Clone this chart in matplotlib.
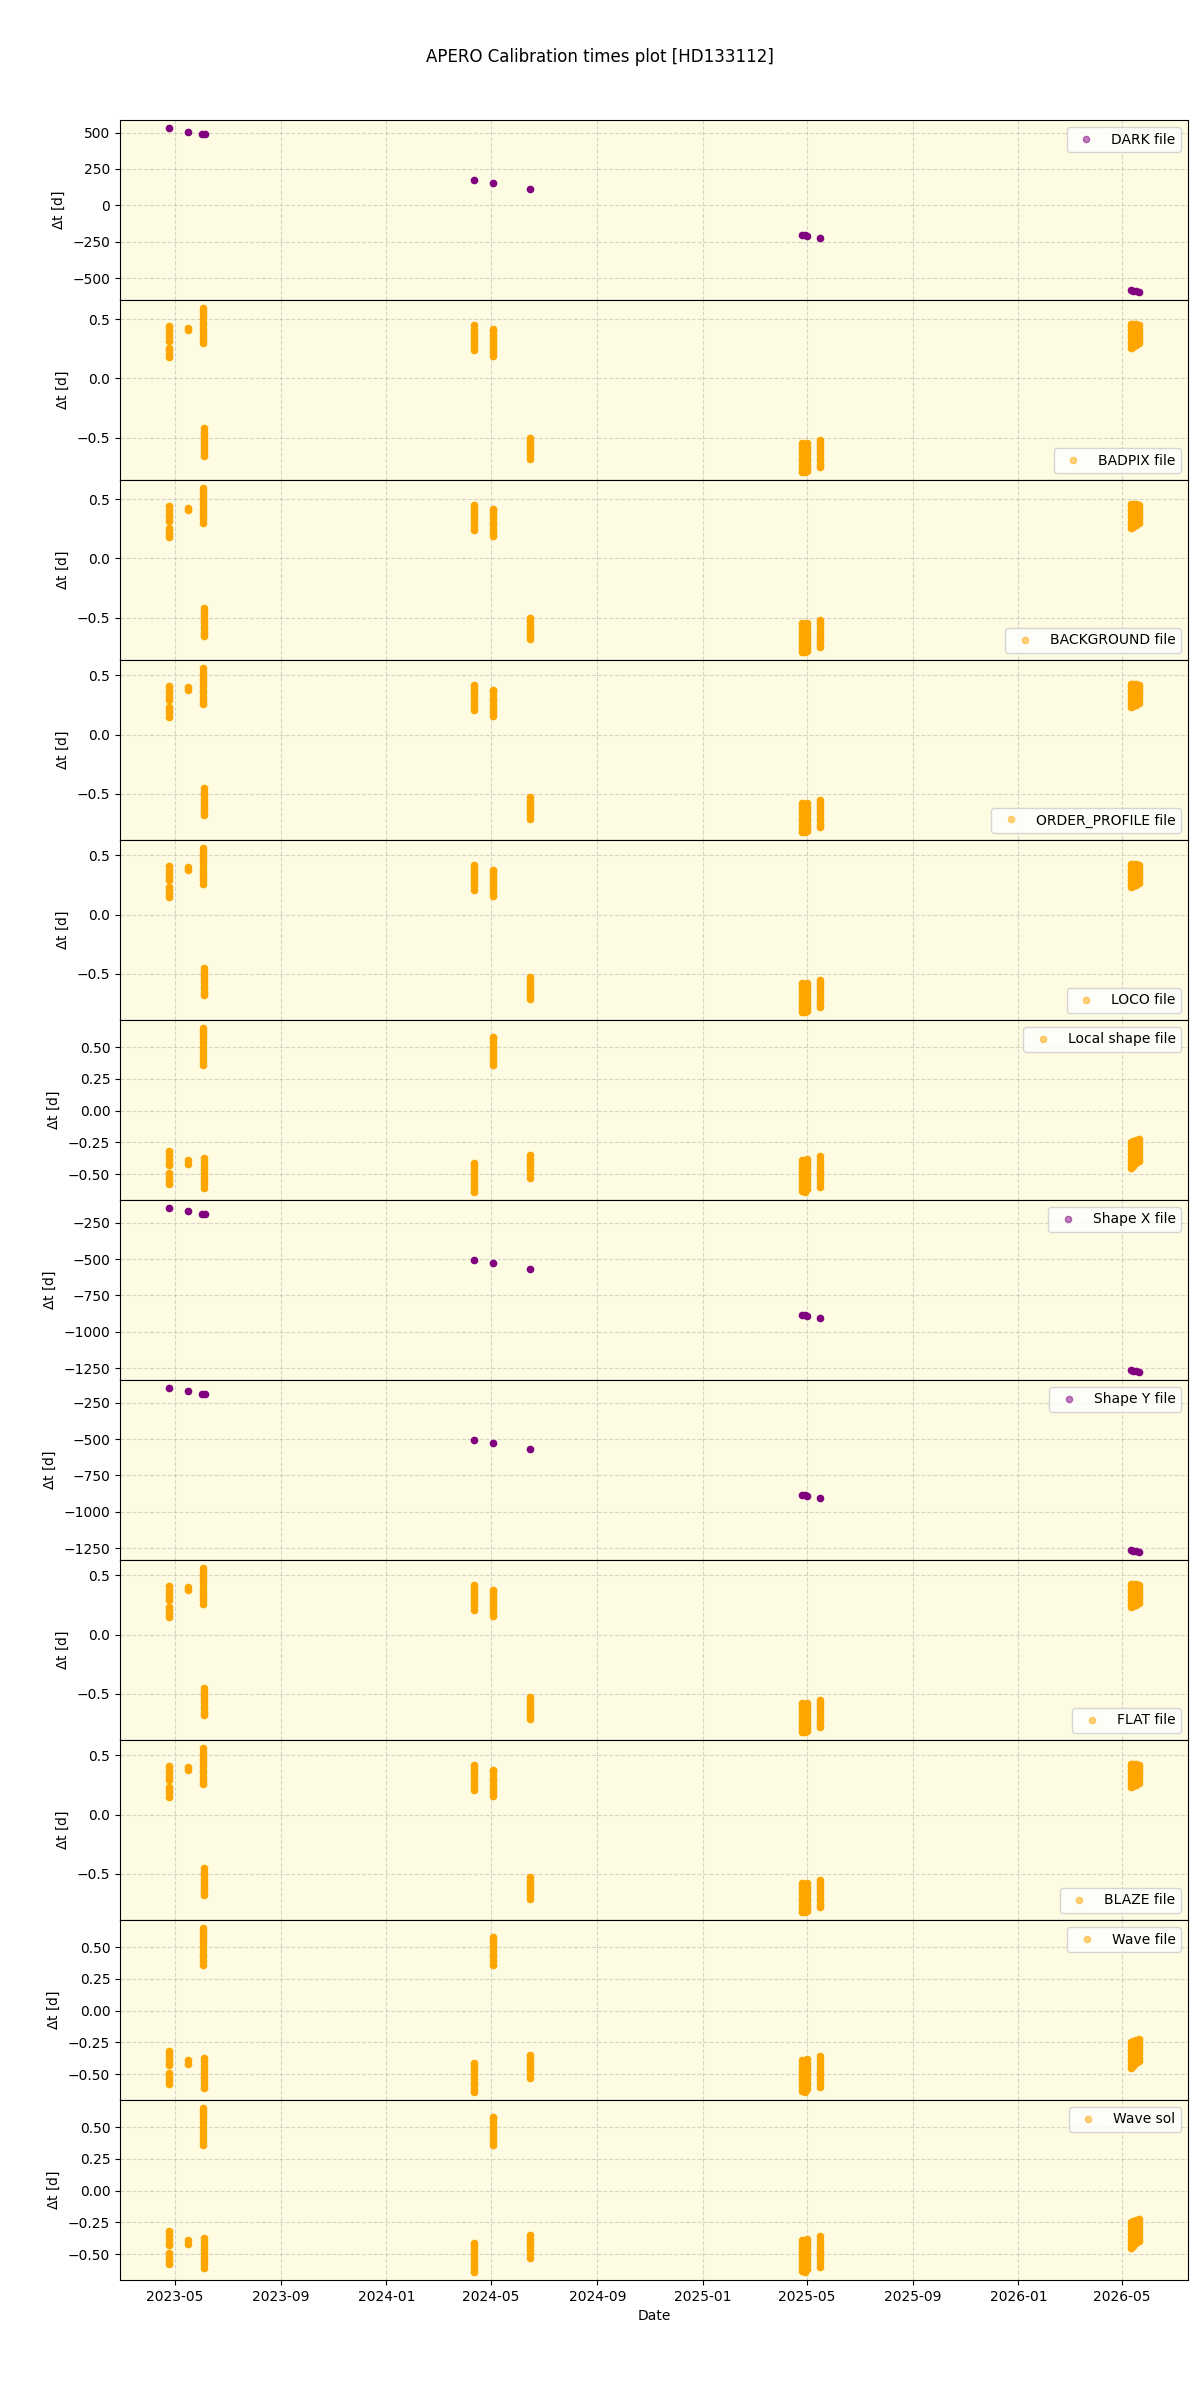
import numpy as np
import matplotlib
matplotlib.use("Agg")
import matplotlib.pyplot as plt

# observation nights used by the nightly calibrations (orange panels)
orange_dates = ['2023-04-24', '2023-04-24', '2023-05-16', '2023-06-03', '2023-06-04',
                '2024-04-11', '2024-05-03', '2024-06-15',
                '2025-04-26', '2025-04-29', '2025-05-02', '2025-05-16',
                '2026-05-11', '2026-05-14', '2026-05-17', '2026-05-21']

# BADPIX / BACKGROUND  dt [d]
dt_badpix = [
    [0.18, 0.21, 0.24, 0.26],
    [0.32, 0.35, 0.38, 0.41, 0.44],
    [0.41, 0.43],
    [0.30, 0.33, 0.36, 0.39, 0.42, 0.45, 0.48, 0.51, 0.54, 0.57, 0.595],
    [-0.42, -0.45, -0.48, -0.51, -0.54, -0.57, -0.60, -0.63, -0.655],
    [0.24, 0.27, 0.30, 0.33, 0.36, 0.39, 0.42, 0.45],
    [0.19, 0.22, 0.25, 0.28, 0.31, 0.34, 0.37, 0.40, 0.415],
    [-0.50, -0.53, -0.56, -0.59, -0.62, -0.65, -0.68],
    [-0.55, -0.58, -0.61, -0.64, -0.67, -0.70, -0.73, -0.76, -0.79],
    [-0.56, -0.59, -0.62, -0.65, -0.68, -0.71, -0.74, -0.77, -0.79],
    [-0.55, -0.58, -0.61, -0.64, -0.67, -0.70, -0.73, -0.76, -0.78],
    [-0.52, -0.55, -0.58, -0.61, -0.64, -0.67, -0.70, -0.73, -0.75],
    [0.26, 0.29, 0.32, 0.35, 0.38, 0.41, 0.44, 0.46],
    [0.27, 0.30, 0.33, 0.36, 0.39, 0.42, 0.45, 0.46],
    [0.28, 0.31, 0.34, 0.37, 0.40, 0.43, 0.46],
    [0.30, 0.33, 0.36, 0.39, 0.42, 0.45],
]

# ORDER_PROFILE / LOCO / FLAT / BLAZE  dt [d]
dt_flat = [
    [0.15, 0.18, 0.21, 0.23],
    [0.29, 0.32, 0.35, 0.38, 0.41],
    [0.38, 0.40],
    [0.26, 0.29, 0.32, 0.35, 0.38, 0.41, 0.44, 0.47, 0.50, 0.53, 0.56],
    [-0.45, -0.48, -0.51, -0.54, -0.57, -0.60, -0.63, -0.66, -0.68],
    [0.21, 0.24, 0.27, 0.30, 0.33, 0.36, 0.39, 0.42],
    [0.16, 0.19, 0.22, 0.25, 0.28, 0.31, 0.34, 0.37, 0.38],
    [-0.53, -0.56, -0.59, -0.62, -0.65, -0.68, -0.71],
    [-0.58, -0.61, -0.64, -0.67, -0.70, -0.73, -0.76, -0.79, -0.82],
    [-0.59, -0.62, -0.65, -0.68, -0.71, -0.74, -0.77, -0.80, -0.82],
    [-0.58, -0.61, -0.64, -0.67, -0.70, -0.73, -0.76, -0.79, -0.81],
    [-0.55, -0.58, -0.61, -0.64, -0.67, -0.70, -0.73, -0.76, -0.78],
    [0.23, 0.26, 0.29, 0.32, 0.35, 0.38, 0.41, 0.43],
    [0.24, 0.27, 0.30, 0.33, 0.36, 0.39, 0.42, 0.43],
    [0.25, 0.28, 0.31, 0.34, 0.37, 0.40, 0.43],
    [0.27, 0.30, 0.33, 0.36, 0.39, 0.42],
]

# Local shape / Wave file / Wave sol  dt [d]
dt_wave = [
    [-0.32, -0.35, -0.38, -0.41, -0.43],
    [-0.49, -0.52, -0.55, -0.58],
    [-0.39, -0.42],
    [0.36, 0.39, 0.42, 0.45, 0.48, 0.51, 0.54, 0.57, 0.60, 0.63, 0.65],
    [-0.37, -0.40, -0.43, -0.46, -0.49, -0.52, -0.55, -0.58, -0.61],
    [-0.41, -0.44, -0.47, -0.50, -0.53, -0.56, -0.59, -0.62, -0.64],
    [0.36, 0.39, 0.42, 0.45, 0.48, 0.51, 0.54, 0.57, 0.58],
    [-0.35, -0.38, -0.41, -0.44, -0.47, -0.50, -0.53],
    [-0.39, -0.42, -0.45, -0.48, -0.51, -0.54, -0.57, -0.60, -0.63],
    [-0.40, -0.43, -0.46, -0.49, -0.52, -0.55, -0.58, -0.61, -0.64],
    [-0.38, -0.41, -0.44, -0.47, -0.50, -0.53, -0.56, -0.59, -0.62],
    [-0.36, -0.39, -0.42, -0.45, -0.48, -0.51, -0.54, -0.57, -0.60],
    [-0.25, -0.28, -0.31, -0.34, -0.37, -0.40, -0.43, -0.45],
    [-0.24, -0.27, -0.30, -0.33, -0.36, -0.39, -0.42, -0.44],
    [-0.23, -0.26, -0.29, -0.32, -0.35, -0.38, -0.41],
    [-0.22, -0.25, -0.28, -0.31, -0.34, -0.37, -0.40],
]

# single master calibrations (purple panels)
purple_dates = ['2023-04-24', '2023-05-16', '2023-06-02', '2023-06-05',
                '2024-04-11', '2024-05-03', '2024-06-15',
                '2025-04-26', '2025-04-29', '2025-05-02', '2025-05-16',
                '2026-05-11', '2026-05-14', '2026-05-17', '2026-05-21']
dt_dark = [530, 507, 490, 487, 176, 154, 111,
           -204, -207, -210, -224, -584, -587, -590, -594]
dt_shape = [-151, -173, -190, -193, -504, -526, -569,
            -884, -887, -890, -904, -1264, -1267, -1270, -1274]

labels = ['DARK file', 'BADPIX file', 'BACKGROUND file', 'ORDER_PROFILE file',
          'LOCO file', 'Local shape file', 'Shape X file', 'Shape Y file',
          'FLAT file', 'BLAZE file', 'Wave file', 'Wave sol']
legend_loc = ['upper right', 'lower right', 'lower right', 'lower right',
              'lower right', 'upper right', 'upper right', 'upper right',
              'lower right', 'lower right', 'upper right', 'upper right']


def flatten(dates, dts):
    xs, ys = [], []
    for d, vals in zip(dates, dts):
        for v in vals:
            xs.append(np.datetime64(d))
            ys.append(v)
    return np.array(xs), np.array(ys)


panels = [
    (np.array(purple_dates, dtype='datetime64[D]'), np.array(dt_dark), 'purple'),
    flatten(orange_dates, dt_badpix) + ('orange',),
    flatten(orange_dates, dt_badpix) + ('orange',),
    flatten(orange_dates, dt_flat) + ('orange',),
    flatten(orange_dates, dt_flat) + ('orange',),
    flatten(orange_dates, dt_wave) + ('orange',),
    (np.array(purple_dates, dtype='datetime64[D]'), np.array(dt_shape), 'purple'),
    (np.array(purple_dates, dtype='datetime64[D]'), np.array(dt_shape), 'purple'),
    flatten(orange_dates, dt_flat) + ('orange',),
    flatten(orange_dates, dt_flat) + ('orange',),
    flatten(orange_dates, dt_wave) + ('orange',),
    flatten(orange_dates, dt_wave) + ('orange',),
]

fig, axes = plt.subplots(12, 1, figsize=(12, 24), sharex=True)
plt.subplots_adjust(hspace=0, left=0.1, right=0.99, top=0.95, bottom=0.05)

for ax, (x, y, col), lab, loc in zip(axes, panels, labels, legend_loc):
    ax.set_facecolor('#FDFBE2')
    ax.plot(x, y, 'o', color=col, ms=4.5, label=lab)
    ax.set_ylabel(r'$\Delta$t [d]')
    ax.grid(True, linestyle='--', alpha=0.5)
    leg = ax.legend(loc=loc)
    for h in leg.legend_handles:
        h.set_alpha(0.5)

axes[-1].set_xlabel('Date')
fig.suptitle('APERO Calibration times plot [HD133112]')
plt.savefig('out.png', dpi=100)
